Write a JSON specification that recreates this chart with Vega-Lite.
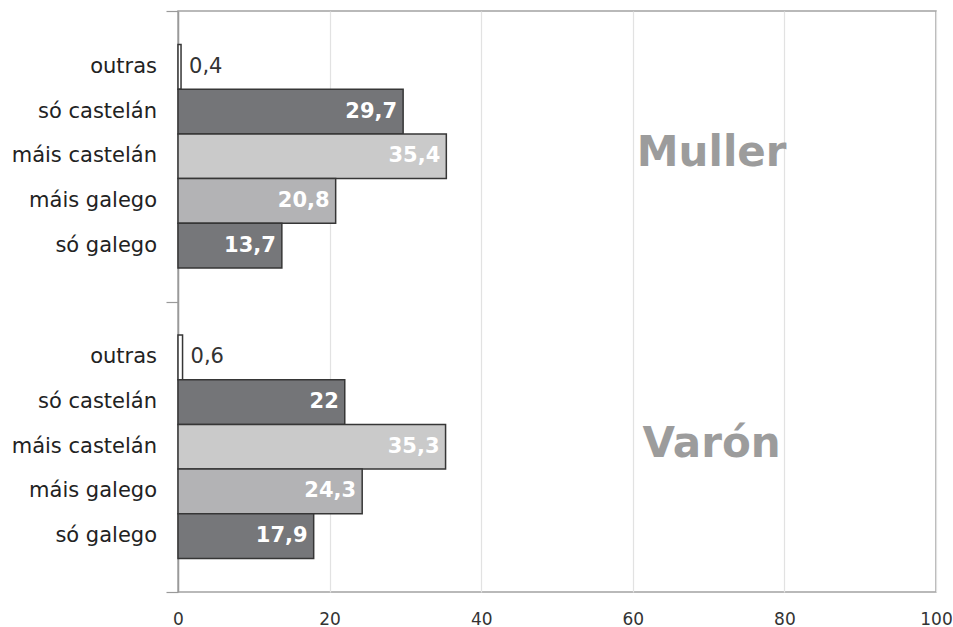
{
  "$schema": "https://vega.github.io/schema/vega-lite/v6.json",
  "autosize": {"type": "none"},
  "padding": {"left": 178, "top": 11, "right": 17, "bottom": 35},
  "width": 758,
  "height": 581,
  "background": "white",
  "config": {
    "font": "DejaVu Sans",
    "view": {"stroke": "#a3a3a3", "strokeWidth": 1.5},
    "locale": {"number": {"decimal": ",", "thousands": ".", "grouping": [3], "currency": ["", " €"]}}
  },
  "data": {
    "values": [
      {"group": "Muller", "cat": "outras", "value": 0.4},
      {"group": "Muller", "cat": "só castelán", "value": 29.7},
      {"group": "Muller", "cat": "máis castelán", "value": 35.4},
      {"group": "Muller", "cat": "máis galego", "value": 20.8},
      {"group": "Muller", "cat": "só galego", "value": 13.7},
      {"group": "Varón", "cat": "outras", "value": 0.6},
      {"group": "Varón", "cat": "só castelán", "value": 22},
      {"group": "Varón", "cat": "máis castelán", "value": 35.3},
      {"group": "Varón", "cat": "máis galego", "value": 24.3},
      {"group": "Varón", "cat": "só galego", "value": 17.9}
    ]
  },
  "encoding": {
    "y": {
      "field": "group", "type": "nominal",
      "scale": {"domain": ["Muller", "Varón"], "paddingInner": 0, "paddingOuter": 0},
      "axis": {"labels": false, "title": null, "domainColor": "#9a9a9a", "domainWidth": 1.5, "tickColor": "#9a9a9a", "tickSize": 12, "tickWidth": 1.2, "tickBand": "extent", "grid": false}
    },
    "yOffset": {
      "field": "cat", "type": "nominal",
      "scale": {"domain": ["outras", "só castelán", "máis castelán", "máis galego", "só galego"], "paddingInner": 0, "paddingOuter": 0.75}
    }
  },
  "layer": [
    {
      "mark": {"type": "bar", "stroke": "#363636", "strokeWidth": 1.5},
      "encoding": {
        "x": {
          "field": "value", "type": "quantitative",
          "scale": {"domain": [0, 100], "nice": false},
          "axis": {"values": [0, 20, 40, 60, 80, 100], "title": null, "domain": false, "ticks": false, "labelPadding": 19, "labelFontSize": 17, "labelColor": "#333333", "gridColor": "#e2e2e2", "gridWidth": 1.2, "labelFlush": false}
        },
        "color": {
          "field": "cat", "type": "nominal", "legend": null,
          "scale": {"domain": ["outras", "só castelán", "máis castelán", "máis galego", "só galego"], "range": ["#ffffff", "#747578", "#cacaca", "#b3b3b5", "#76777a"]}
        }
      }
    },
    {
      "mark": {"type": "text", "align": "right", "baseline": "middle", "dx": -21, "fontSize": 21, "color": "#222222"},
      "encoding": {
        "x": {"datum": 0, "type": "quantitative"},
        "text": {"field": "cat"}
      }
    },
    {
      "transform": [{"filter": "datum.cat !== 'outras'"}],
      "mark": {"type": "text", "align": "right", "baseline": "middle", "dx": -6, "fontSize": 21, "fontWeight": "bold", "color": "#ffffff"},
      "encoding": {
        "x": {"field": "value", "type": "quantitative"},
        "text": {"field": "value", "type": "quantitative", "format": ",.1~f"}
      }
    },
    {
      "transform": [{"filter": "datum.cat === 'outras'"}],
      "mark": {"type": "text", "align": "left", "baseline": "middle", "dx": 8, "fontSize": 21, "color": "#333333"},
      "encoding": {
        "x": {"field": "value", "type": "quantitative"},
        "text": {"field": "value", "type": "quantitative", "format": ",.1~f"}
      }
    },
    {
      "data": {"values": [{"group": "Muller"}, {"group": "Varón"}]},
      "mark": {"type": "text", "align": "center", "baseline": "middle", "dy": -3, "fontSize": 42, "fontWeight": "bold", "color": "#9c9c9c"},
      "encoding": {
        "x": {"datum": 70.4, "type": "quantitative"},
        "yOffset": null,
        "text": {"field": "group"}
      }
    }
  ]
}
